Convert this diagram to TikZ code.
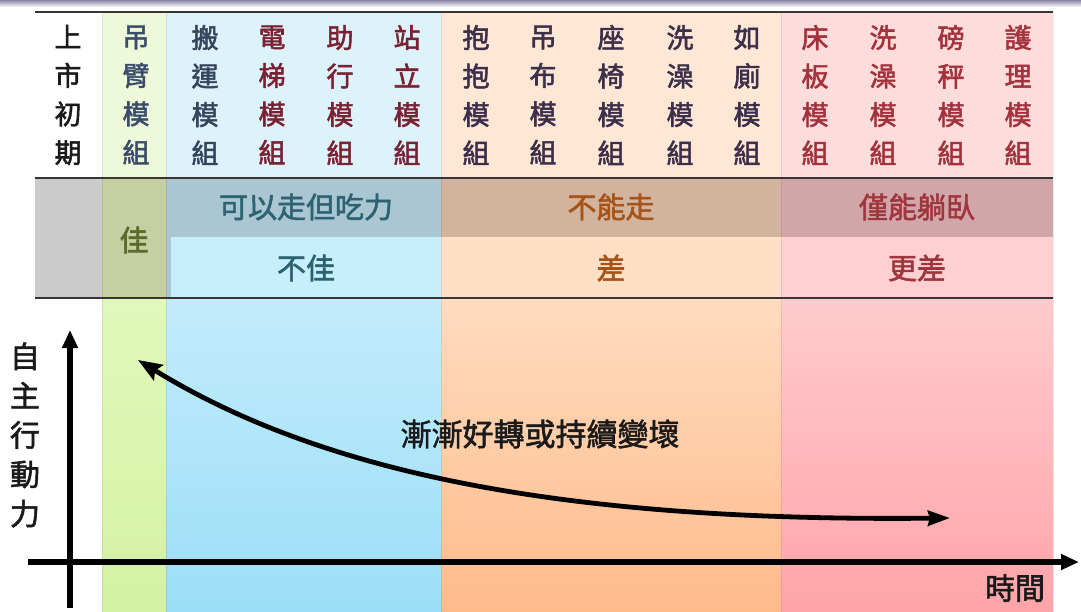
\documentclass[tikz,border=0pt]{standalone}
\usepackage{fontspec}
\setmainfont{Noto Sans CJK TC}
\usepackage{xcolor}
\usepackage{tikz}
\usetikzlibrary{arrows.meta}
\definecolor{ink}{HTML}{1A1A1A}
\definecolor{rulec}{HTML}{3A3533}
\definecolor{bandtop}{HTML}{8C84A6}
% header row fills
\definecolor{greenA}{HTML}{EEF9D9}
\definecolor{blueA}{HTML}{DCF3FC}
\definecolor{orangeA}{HTML}{FFE7D6}
\definecolor{pinkA}{HTML}{FDDCDC}
% grade row fills
\definecolor{grayB}{HTML}{CBCBCB}
\definecolor{oliveB}{HTML}{C5CFA2}
\definecolor{blueB}{HTML}{A9C6D2}
\definecolor{blueC}{HTML}{C6EEFB}
\definecolor{orangeB}{HTML}{D2B39D}
\definecolor{orangeC}{HTML}{FFDFC6}
\definecolor{pinkB}{HTML}{D1A6A9}
\definecolor{pinkC}{HTML}{FFD0D1}
% chart area fills
\definecolor{greenT}{HTML}{E0F8BA}
\definecolor{greenD}{HTML}{D3F2A4}
\definecolor{blueT}{HTML}{C2ECFB}
\definecolor{blueD}{HTML}{9CDEF7}
\definecolor{orangeT}{HTML}{FFDCBF}
\definecolor{orangeD}{HTML}{FFBB8C}
\definecolor{pinkT}{HTML}{FFCBCC}
\definecolor{pinkD}{HTML}{FFA4A9}
% text colours
\definecolor{hoisttxt}{HTML}{3A4C6A}
\definecolor{movetxt}{HTML}{33465E}
\definecolor{walktxt}{HTML}{7B2232}
\definecolor{sittxt}{HTML}{3B2F4A}
\definecolor{bedtxt}{HTML}{A3323C}
\definecolor{goodtxt}{HTML}{5C6A2A}
\definecolor{weaktxt}{HTML}{2D6270}
\definecolor{badtxt}{HTML}{A65418}
\definecolor{worsetxt}{HTML}{A0363D}
% slightly heavier strokes for the regular weight
\newcommand{\HeavyOn}{\special{pdf:literal direct 2 Tr 0.55 w}}
\newcommand{\HeavyOff}{\special{pdf:literal direct 0 Tr}}
\tikzset{
  heavy/.style={execute at begin node=\HeavyOn, execute at end node=\HeavyOff},
  modtext/.style={heavy, align=center, inner sep=0pt, font=\fontsize{27}{38.5}\selectfont},
  grade/.style={heavy, inner sep=0pt, font=\fontsize{29}{30}\selectfont},
  rowrule/.style={line width=2.8pt, draw=rulec},
  colsep/.style={line width=0.6pt, draw=black, opacity=0.08},
  ax/.style={-{Triangle[length=18pt,width=15pt]}, line width=5.5pt, draw=black},
  trend/.style={{Stealth[length=24pt,width=18pt,inset=4pt]}-{Stealth[length=22pt,width=15pt,inset=2pt]}, line width=4.8pt, draw=black},
  axlabel/.style={heavy, align=center, inner sep=0pt, text=ink, font=\fontsize{30}{39.3}\selectfont}
}
\newcommand{\ModCol}[4]{% name, x, colour, text
  \node[modtext, text=#3] (#1) at (#2,95) {#4};
}

\begin{document}
\begin{tikzpicture}[x=1pt,y=-1pt]
  \useasboundingbox (0,0) rectangle (1081,612);
  \fill[white] (0,0) rectangle (1081,612);
  \shade[top color=bandtop, bottom color=white] (0,0) rectangle (1081,7);

  % module row
  \fill[greenA] (102,12) rectangle (166,178);
  \fill[blueA] (166,12) rectangle (441,178);
  \fill[orangeA] (441,12) rectangle (781,178);
  \fill[pinkA] (781,12) rectangle (1053,178);

  % grade row
  \fill[grayB] (35,178) rectangle (102,298);
  \fill[oliveB] (102,178) rectangle (166,298);
  \fill[blueB] (166,178) rectangle (441,237);
  \fill[blueB] (166,237) rectangle (171,298);
  \fill[blueC] (171,237) rectangle (441,298);
  \fill[orangeB] (441,178) rectangle (781,237);
  \fill[orangeC] (441,237) rectangle (781,298);
  \fill[pinkB] (781,178) rectangle (1053,237);
  \fill[pinkC] (781,237) rectangle (1053,298);

  % chart area
  \shade[top color=greenT, bottom color=greenD] (102,298) rectangle (166,612);
  \shade[top color=blueT, bottom color=blueD] (166,298) rectangle (441,612);
  \shade[top color=orangeT, bottom color=orangeD] (441,298) rectangle (781,612);
  \shade[top color=pinkT, bottom color=pinkD] (781,298) rectangle (1053,612);

  \draw[colsep] (102,12) -- (102,612);
  \draw[colsep] (166,12) -- (166,612);
  \draw[colsep] (441,12) -- (441,612);
  \draw[colsep] (781,12) -- (781,612);
  \draw[colsep] (1053,12) -- (1053,612);

  \draw[rowrule, line width=1.8pt] (35,12) -- (1053,12);
  \draw[rowrule] (35,178) -- (1053,178);
  \draw[rowrule] (35,298) -- (1053,298);

  % module names
  \ModCol{launch}{68}{ink}{上\\市\\初\\期}
  \ModCol{hoist}{136}{hoisttxt}{吊\\臂\\模\\組}
  \ModCol{carry}{205}{movetxt}{搬\\運\\模\\組}
  \ModCol{stair}{272}{walktxt}{電\\梯\\模\\組}
  \ModCol{walk}{340}{walktxt}{助\\行\\模\\組}
  \ModCol{stand}{407}{walktxt}{站\\立\\模\\組}
  \ModCol{hug}{476}{sittxt}{抱\\抱\\模\\組}
  \ModCol{sling}{543}{sittxt}{吊\\布\\模\\組}
  \ModCol{seat}{611}{sittxt}{座\\椅\\模\\組}
  \ModCol{bath}{680}{sittxt}{洗\\澡\\模\\組}
  \ModCol{toilet}{747}{sittxt}{如\\廁\\模\\組}
  \ModCol{bed}{815}{bedtxt}{床\\板\\模\\組}
  \ModCol{bedbath}{883}{bedtxt}{洗\\澡\\模\\組}
  \ModCol{scale}{951}{bedtxt}{磅\\秤\\模\\組}
  \ModCol{care}{1018}{bedtxt}{護\\理\\模\\組}

  % mobility grades
  \node[grade, text=goodtxt] (good) at (134,240) {佳};
  \node[grade, text=weaktxt] (weakA) at (306,207) {可以走但吃力};
  \node[grade, text=weaktxt] (weakB) at (306,268) {不佳};
  \node[grade, text=badtxt] (badA) at (611,207) {不能走};
  \node[grade, text=badtxt] (badB) at (611,268) {差};
  \node[grade, text=worsetxt] (worseA) at (917,207) {僅能躺臥};
  \node[grade, text=worsetxt] (worseB) at (917,268) {更差};

  % axes
  \coordinate (ybot) at (70,608);
  \coordinate (ytop) at (70,330);
  \coordinate (xleft) at (28,562);
  \coordinate (xright) at (1079,562);
  \draw[ax] (ybot) -- (ytop);
  \draw[ax] (xleft) -- (xright);
  \node[axlabel] (ylab) at (25,435) {自\\主\\行\\動\\力};
  \node[axlabel] (xlab) at (1015,588) {時間};

  % trend
  \coordinate (better) at (138,360);
  \coordinate (worse) at (950,518);
  \draw[trend] (better) .. controls (320,472) and (560,522) .. (worse);
  \node[axlabel, font=\fontsize{31}{32}\selectfont] (trendlab) at (540,434) {漸漸好轉或持續變壞};
\end{tikzpicture}
\end{document}
